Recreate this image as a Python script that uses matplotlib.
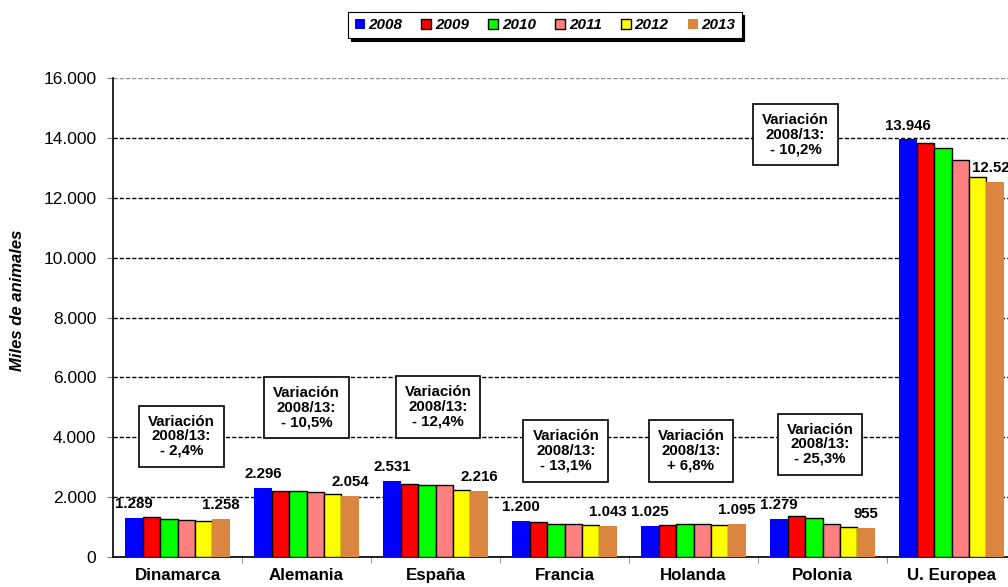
import numpy as np
import matplotlib
matplotlib.use("Agg")
import matplotlib.pyplot as plt
from matplotlib.ticker import FuncFormatter, FixedLocator

plt.rcParams['font.family'] = ['Liberation Sans', 'DejaVu Sans']

# --- data ---
countries = ['Dinamarca', 'Alemania', 'España', 'Francia', 'Holanda', 'Polonia', 'U. Europea']
years = ['2008', '2009', '2010', '2011', '2012', '2013']
v2008 = [1289, 2296, 2531, 1200, 1025, 1279, 13946]
v2009 = [1346, 2215, 2427, 1169, 1085, 1358, 13838]
v2010 = [1270, 2215, 2394, 1102, 1090, 1314, 13671]
v2011 = [1236, 2182, 2394, 1091, 1090, 1113, 13260]
v2012 = [1214, 2104, 2237, 1080, 1080, 1002, 12702]
v2013 = [1258, 2054, 2216, 1043, 1095, 955, 12523]
variation = ['- 2,4%', '- 10,5%', '- 12,4%', '- 13,1%', '+ 6,8%', '- 25,3%', '- 10,2%']

series = [v2008, v2009, v2010, v2011, v2012, v2013]
colors = ['#0000FF', '#FF0000', '#00FF00', '#FF8080', '#FFFF00', '#DA8540']
edged = [False, True, True, True, True, False]

# where the annotation boxes sit (group index, y in data units)
box_pos = [(0.03, 4040), (1.0, 4990), (2.02, 5010), (3.01, 3540),
           (3.98, 3540), (4.98, 3770), (4.79, 14110)]


def thousands(v):
    return f"{int(v):,}".replace(',', '.')


fig = plt.figure(figsize=(10.08, 5.87), dpi=100)
# plot area runs a little past the right edge of the picture, as in the reference
ax = fig.add_axes([113 / 1008, 30 / 587, 903 / 1008, 479 / 587])

x = np.arange(len(countries))
bw = 0.135
bars = []
for i, (vals, col, ed) in enumerate(zip(series, colors, edged)):
    off = (i - 2.5) * bw
    b = ax.bar(x + off, vals, bw, color=col, label=years[i],
               edgecolor='black' if ed else col,
               linewidth=1.0 if ed else 0, zorder=3)
    bars.append(b)

# value labels only on first and last year
for b, vals in ((bars[0], v2008), (bars[-1], v2013)):
    ax.bar_label(b, labels=[thousands(v) for v in vals], padding=5,
                 fontsize=10.8, fontweight='bold', clip_on=False, zorder=5)

for (bx, by), txt in zip(box_pos, variation):
    ax.text(bx, by, "Variación\n2008/13:\n" + txt, ha='center', va='center',
            fontsize=10.8, fontweight='bold', linespacing=1.05, zorder=6,
            bbox=dict(boxstyle='square,pad=0.6', fc='white', ec='black', lw=1.2))

ax.set_xlim(-0.5, len(countries) - 0.5)
ax.set_ylim(0, 16000)
ax.set_yticks(np.arange(0, 16001, 2000))
ax.yaxis.set_major_formatter(FuncFormatter(lambda v, p: thousands(v)))
ax.tick_params(axis='y', labelsize=12.5, length=4, color='#808080', pad=8)

ax.set_xticks(x)
ax.set_xticklabels(countries, fontsize=12.2, fontweight='bold')
ax.xaxis.set_minor_locator(FixedLocator(np.arange(0.5, len(countries) - 0.5, 1)))
ax.tick_params(axis='x', which='major', length=0, pad=8)
ax.tick_params(axis='x', which='minor', length=4, color='#808080')

ax.yaxis.grid(True, color='black', linestyle=(0, (3, 1.5)), linewidth=1.0, zorder=1)
ax.set_axisbelow(True)
ax.get_ygridlines()[-1].set_color('#909090')

ax.spines['top'].set_visible(False)
ax.spines['right'].set_visible(False)
ax.spines['left'].set_linewidth(1.2)
ax.spines['bottom'].set_linewidth(1.2)

fig.text(18 / 1008, 1 - 300 / 587, 'Miles de animales', rotation=90,
         ha='center', va='center', fontsize=12, fontweight='bold', style='italic')

leg = fig.legend(handles=bars, labels=years, loc='center', ncol=6,
                 bbox_to_anchor=(545 / 1008, 1 - 25 / 587),
                 prop=dict(weight='bold', style='italic', size=11),
                 frameon=True, fancybox=False, edgecolor='black',
                 shadow={'color': 'black', 'alpha': 1.0},
                 handlelength=0.65, handleheight=0.65, handletextpad=0.25,
                 columnspacing=1.25, borderpad=0.4)
leg.get_frame().set_linewidth(0.8)

fig.savefig('out.png', dpi=100)
